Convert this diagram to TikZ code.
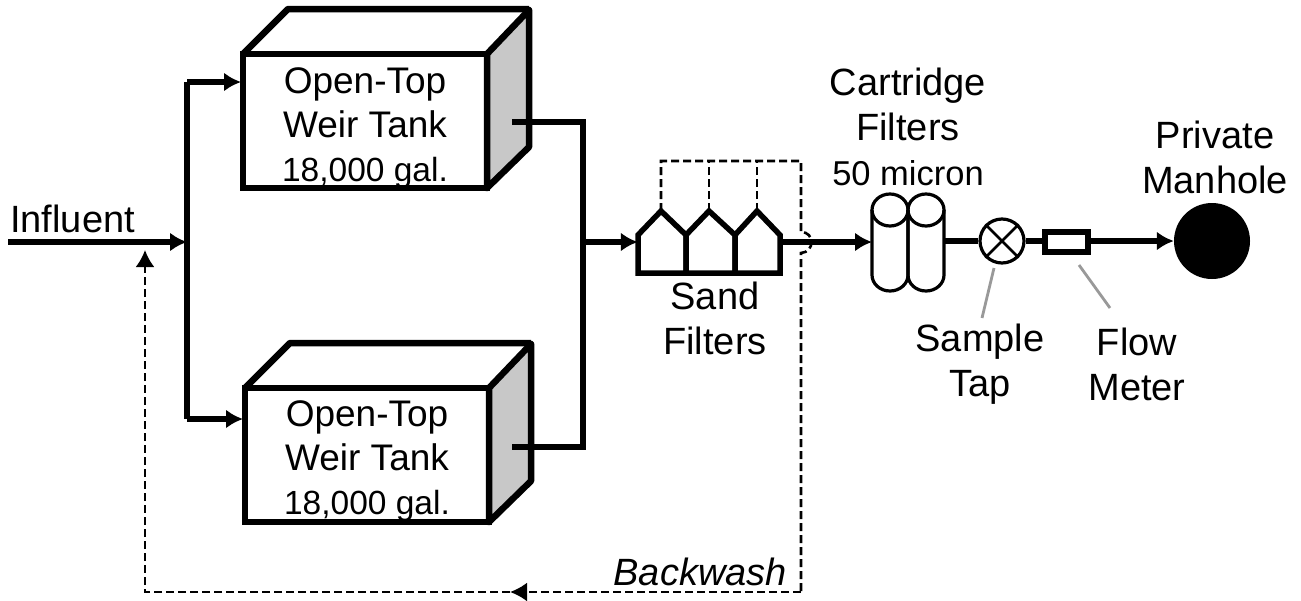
\documentclass[tikz,border=0pt]{standalone}
\usepackage{fontspec}
\setmainfont{Liberation Sans}
\usetikzlibrary{arrows.meta,calc,positioning}
\definecolor{sidegrey}{HTML}{C8C8C8}
\definecolor{leadergrey}{HTML}{999999}
\tikzset{every picture/.style={
  >={Latex[length=17pt,width=19pt]}   % Large solid arrow heads.
  }
}

\begin{document}
\begin{tikzpicture}[
    x=1pt,y=-1pt,
    pipe/.style={               % Main process lines.
      line width=5.3pt
    },
    tank/.style={               % Front face of a weir tank.
      rectangle,
      draw,
      fill=white,
      line width=6.5pt,
      outer sep=0pt,
      minimum width=244pt,
      minimum height=134pt
    },
    tanklbl/.style={            % Text on the front face.
      align=center,
      inner sep=0pt,
      font=\fontsize{37}{44}\selectfont
    },
    cart/.style={               % Box holding one cartridge filter.
      rectangle,
      inner sep=0pt,
      outer sep=0pt,
      minimum width=36pt,
      minimum height=97pt
    },
    backwash/.style={           % Dashed backwash lines.
      line width=2.6pt,
      dash pattern=on 8pt off 4pt
    },
    leader/.style={             % Grey label leaders.
      line width=2.8pt,
      draw=leadergrey
    },
    lbl/.style={                % Styling of label text.
      align=center,
      inner sep=0pt,
      font=\fontsize{38}{45}\selectfont
    }]
    \useasboundingbox (0,0) rectangle (1301,600);

    % The two tanks, front face first and the rest of the box behind.
    \node[tank] (tank1) at (365,121) {};
    \node[tank] (tank2) [below=200pt of tank1,xshift=2pt] {};
    \foreach \t in {tank1,tank2} {
      \draw[line width=6.5pt,fill=sidegrey,line join=round] (\t.north east) -- ++(42,-44)
        -- ++(0,137) -- (\t.south east) -- cycle;
      \draw[line width=6.5pt,line join=round] (\t.north west) -- ++(45,-45) -- ++(241,0);
    }
    \node[tanklbl] (text1) at ([yshift=-7pt] tank1.center)
      {Open-Top\\Weir Tank\\{\fontsize{33.5}{40}\selectfont 18,000 gal.}};
    \node[tanklbl] (text2) at ([yshift=-6pt] tank2.center)
      {Open-Top\\Weir Tank\\{\fontsize{33.5}{40}\selectfont 18,000 gal.}};

    % Influent and the split to the tanks.
    \coordinate (influent) at (8,242);
    \coordinate (split) at (187,242);
    \coordinate (feed1) at (187,82);
    \coordinate (feed2) at (187,419);
    \draw[pipe,->] (influent) -- (split);
    \draw[pipe] (feed1) -- (feed2);
    \draw[pipe,->,shorten >=2pt] (feed1) -- (feed1 -| tank1.west);
    \draw[pipe,->,shorten >=2pt] (feed2) -- (feed2 -| tank2.west);

    % Tank outlets joining on the way to the sand filters.
    \coordinate (out1) at (512,122);
    \coordinate (out2) at (512,447);
    \coordinate (join1) at (583,122);
    \coordinate (join2) at (583,447);
    \coordinate (join) at (583,242);
    \draw[pipe] (out1) -- (join1) -- (join2) -- (out2);

    % Sand filters.
    \node[inner sep=0pt,minimum width=142pt,minimum height=62pt] (sand) at (709,242) {};
    \draw[pipe,->] (join) -- (sand.west |- join);
    \foreach \l/\a/\r/\i in {638/661/686/1,686/709/735/2,735/757/780/3} {
      \draw[line width=5.5pt] (\l,273) -- (\l,235) -- (\a,211) -- (\r,235) -- (\r,273) -- cycle;
      \coordinate (apex\i) at (\a,211);
    }
    \node[lbl] (sandlbl) [below=9pt of sand,xshift=6pt] {Sand\\Filters};

    % Cartridge filters, sample tap, flow meter and manhole.
    \node[cart] (cart1) at (890,242.5) {};
    \node[cart] (cart2) [right=0pt of cart1] {};
    \foreach \c in {cart1,cart2} {
      \draw[line width=3.2pt] ($(\c.north)+(0,16)$) ellipse [x radius=18,y radius=16];
      \draw[line width=3.2pt] ($(\c.north west)+(0,16)$) -- ($(\c.south west)+(0,-16)$)
        arc [start angle=180,end angle=0,x radius=18,y radius=16]
        -- ($(\c.north east)+(0,16)$);
    }
    \node[circle,draw,line width=3.2pt,inner sep=0pt,minimum size=44pt] (tap) at (1002,241) {};
    \draw[line width=2.8pt] (tap.45) -- (tap.225) (tap.135) -- (tap.315);
    \node[rectangle,draw,fill=white,line width=6pt,inner sep=0pt,minimum width=43pt,minimum height=20pt]
      (meter) at (1066.5,242) {};
    \node[circle,fill=black,inner sep=0pt,minimum size=76pt] (manhole) at (1212,241) {};
    \draw[pipe,->] (sand.east |- join) -- (cart1.west |- join);
    \draw[pipe] (cart2.east |- tap) -- (tap.west);
    \draw[pipe] (tap.east) -- (meter.west |- tap);
    \draw[pipe,->] (meter.east |- tap) -- (manhole.west);

    % Backwash loop.
    \coordinate (top0) at (661,161);
    \coordinate (top1) at (801,161);
    \coordinate (hop0) at (801,232);
    \coordinate (hop1) at (801,253);
    \coordinate (corner0) at (801,592);
    \coordinate (midback) at (510,592);
    \coordinate (corner1) at (145,592);
    \coordinate (return) at (145,250);
    \draw[backwash] (apex1) -- (top0) -- (top1) -- (hop0)
      .. controls (815,232) and (815,252) .. (hop1) -- (corner0);
    \draw[backwash] (apex2) -- (apex2 |- top0);
    \draw[backwash] (apex3) -- (apex3 |- top0);
    \draw[backwash,->] (corner0) -- (midback);
    \draw[backwash,->] (midback) -- (corner1) -- (return);

    % Labels.
    \node[lbl,anchor=west] (lin) at (10,219) {Influent};
    \node[lbl,anchor=east,font=\fontsize{38}{45}\itshape] (lback) at (787,572) {Backwash};
    \node[lbl] (lcart) at (908,127) {Cartridge\\Filters\\{\fontsize{34.5}{38}\selectfont 50 micron}};
    \node[lbl] (ltap) at (980,364) {Sample\\Tap};
    \node[lbl] (lmeter) at (1137,364) {Flow\\Meter};
    \node[lbl] (lmanhole) at (1215,157) {Private\\Manhole};

    % Leaders from the labels to the fittings.
    \coordinate (tapfoot) at (994,268);
    \coordinate (tapend) at (982,318);
    \coordinate (meterfoot) at (1079,265);
    \coordinate (meterend) at (1110,308);
    \draw[leader] (tapfoot) -- (tapend);
    \draw[leader] (meterfoot) -- (meterend);
\end{tikzpicture}
\end{document}
